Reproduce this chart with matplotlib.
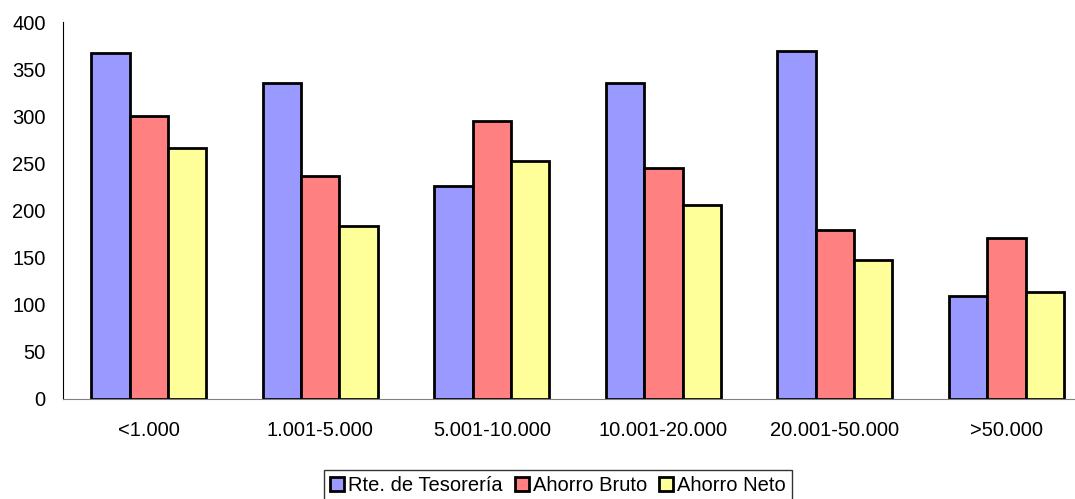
import numpy as np
import matplotlib.pyplot as plt

plt.rcParams['font.family'] = ['Liberation Sans', 'DejaVu Sans']

# Data
categories = ["<1.000", "1.001-5.000", "5.001-10.000", "10.001-20.000", "20.001-50.000", ">50.000"]
tesoreria = [367, 335, 226, 335, 369, 109]
ahorro_bruto = [300, 237, 295, 245, 179, 171]
ahorro_neto = [266, 184, 253, 206, 148, 113]

series = [("Rte. de Tesorería", tesoreria, "#9999ff"),
          ("Ahorro Bruto", ahorro_bruto, "#ff8080"),
          ("Ahorro Neto", ahorro_neto, "#ffff99")]

fig = plt.figure(figsize=(10.75, 4.99), dpi=100)
ax = fig.add_axes([63 / 1075, 100 / 499, 1012 / 1075, 377 / 499])

x = np.arange(len(categories))
w = 0.224
for i, (name, vals, col) in enumerate(series):
    ax.bar(x + (i - 1) * w, vals, w, color=col, edgecolor="black", linewidth=2, label=name)

ax.set_xlim(-0.5, 5.4)
ax.set_ylim(0, 400)
ax.set_yticks(range(0, 401, 50))
ax.set_xticks(x)
ax.set_xticklabels(categories)
ax.tick_params(axis="both", length=0, labelsize=14.5)
ax.tick_params(axis="x", pad=16)
ax.tick_params(axis="y", pad=12.5)

ax.spines["top"].set_visible(False)
ax.spines["right"].set_visible(False)
ax.spines["bottom"].set_color("#808080")
ax.spines["left"].set_color("black")

leg = fig.legend(loc="upper center", bbox_to_anchor=(558 / 1075, 1 - 470 / 499), ncol=3,
                 frameon=True, fancybox=False, edgecolor="black", fontsize=14.5,
                 handlelength=0.7, handleheight=0.7, handletextpad=0.2, columnspacing=0.6,
                 borderpad=0.3, borderaxespad=0)
leg.get_frame().set_linewidth(1)

plt.savefig("out.png", dpi=100)
